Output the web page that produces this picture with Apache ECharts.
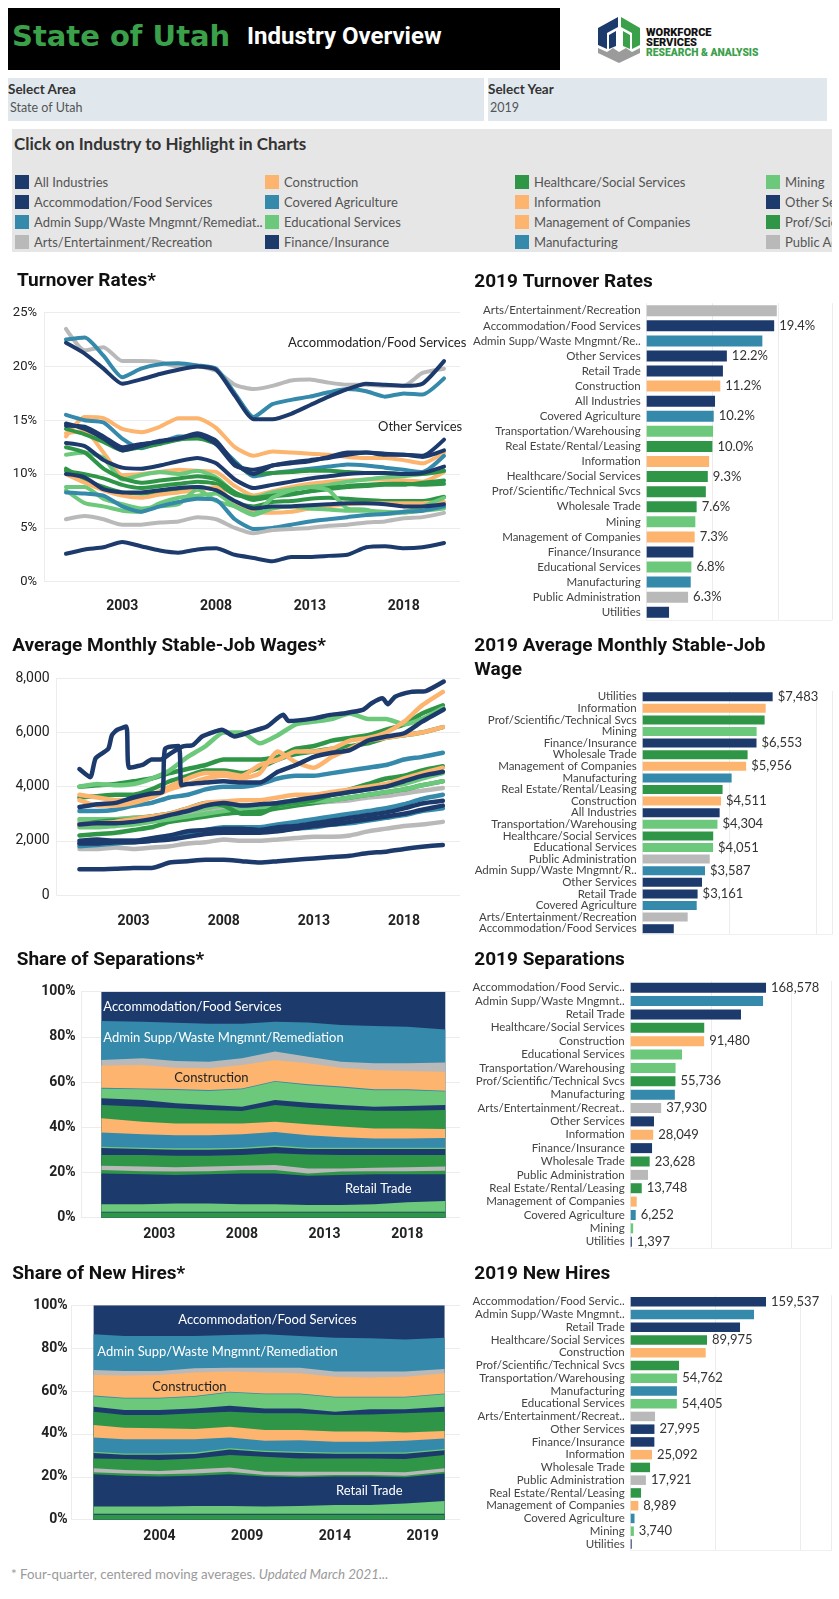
<!DOCTYPE html>
<html><head><meta charset="utf-8">
<script src="https://cdn.jsdelivr.net/npm/echarts@6/dist/echarts.min.js"></script>
<style>
body{margin:0;background:#fff;}
#page{position:relative;width:839px;height:1599px;overflow:hidden;font-family:Lato,'Noto Sans',sans-serif;}
.abs{position:absolute;white-space:nowrap;}
.lt{height:18px;line-height:18px;}
</style></head><body>
<div id="page">
  <div class="abs" style="left:8px;top:8px;width:552px;height:62px;background:#000;"></div>
  <div class="abs" style="left:12px;top:19px;height:42px;line-height:42px;font:bold 29px 'DejaVu Sans';color:#3aa04a;">State of Utah</div>
  <div class="abs" style="left:247px;top:22px;height:38px;line-height:38px;font:bold 24px 'Liberation Sans Narrow',Roboto;color:#fff;">Industry Overview</div>
  <svg class="abs" style="left:590px;top:10px;" width="200" height="60" viewBox="590 10 200 60">
    <polygon points="598,28 618,17 618,27 607,33 607,49 598,45" fill="#1d3a6c"/>
    <polygon points="609,35 616,31 616,46 609,49" fill="#1d3a6c"/>
    <polygon points="621,17 640,28 640,45 632,49 632,33 621,27" fill="#3aa04a"/>
    <polygon points="623,31 630,35 630,49 623,46" fill="#3aa04a"/>
    <polygon points="598,48 607,52 613,48 619,52 626,48 632,52 640,48 640,53 619,63 598,53" fill="#9b9b9b"/>
    <text x="646" y="36" font-family="Roboto" font-weight="900" font-size="11" fill="#111">WORKFORCE</text>
    <text x="646" y="46" font-family="Roboto" font-weight="900" font-size="11" fill="#111">SERVICES</text>
    <text x="646" y="56" font-family="Roboto" font-weight="900" font-size="10.3" fill="#3aa04a">RESEARCH &amp; ANALYSIS</text>
  </svg>
  <div class="abs" style="left:8px;top:78px;width:476px;height:43px;background:#e0e8ee;"></div>
  <div class="abs" style="left:488px;top:78px;width:339px;height:43px;background:#e0e8ee;"></div>
  <div class="abs lt" style="left:8px;top:80px;font-weight:bold;font-size:13.5px;color:#333;">Select Area</div>
  <div class="abs lt" style="left:10px;top:99px;font-size:12.5px;color:#555;">State of Utah</div>
  <div class="abs lt" style="left:488px;top:80px;font-weight:bold;font-size:13.5px;color:#333;">Select Year</div>
  <div class="abs lt" style="left:490px;top:99px;font-size:12.5px;color:#555;">2019</div>
  <div id="legend" class="abs" style="left:12px;top:129px;width:820px;height:123px;background:#e6e6e6;overflow:hidden;">
    <div class="abs" style="left:2px;top:4px;height:22px;line-height:22px;font-weight:bold;font-size:17px;color:#333;">Click on Industry to Highlight in Charts</div>
  </div>
  <div class="abs lt" style="left:11px;top:1565px;font-size:13.3px;color:#9a9a9a;">* Four-quarter, centered moving averages. <i>Updated March 2021...</i></div>
  <div id="chart" class="abs" style="left:0;top:0;width:839px;height:1599px;"></div>
</div>
<script>
// ---------- colours ----------
const NAVY='#1d3a6c', TEAL='#3589ab', LGREEN='#6cc87a', GREEN='#2f9648', ORANGE='#fcb46e', GRAY='#b9b9b9';
const COLOR_BY_KEY={All:NAVY,Accom:NAVY,Admin:TEAL,Arts:GRAY,Constr:ORANGE,CovAg:TEAL,Educ:LGREEN,Fin:NAVY,Health:GREEN,Info:ORANGE,Mgmt:ORANGE,Manuf:TEAL,Mining:LGREEN,Other:NAVY,Prof:GREEN,Public:GRAY,RE:GREEN,Retail:NAVY,Transp:LGREEN,Util:NAVY,Whole:GREEN};

// ---------- legend ----------
const LEGEND_KEYS=['All','Accom','Admin','Arts','Constr','CovAg','Educ','Fin','Health','Info','Mgmt','Manuf','Mining','Other','Prof','Public','RE','Retail','Transp','Util','Whole'];
const LEGEND_LABELS=['All Industries','Accommodation/Food Services','Admin Supp/Waste Mngmnt/Remediat..','Arts/Entertainment/Recreation','Construction','Covered Agriculture','Educational Services','Finance/Insurance','Healthcare/Social Services','Information','Management of Companies','Manufacturing','Mining','Other Services','Prof/Scientific/Technical Svcs','Public Administration','Real Estate/Rental/Leasing','Retail Trade','Transportation/Warehousing','Utilities','Wholesale Trade'];

// ---------- line chart x positions ----------
const YEARS=[2000,2001,2002,2003,2004,2005,2006,2007,2008,2009,2010,2011,2012,2013,2014,2015,2016,2017,2018,2019,2020.15];
const LINE_TICKS_1=[2003,2008,2013,2018];

// ---------- turnover rates (%) ----------
const TURN_ALL=[12.9,12.6,11.3,10.6,10.5,10.8,11.2,11.5,11.0,9.5,8.7,9.0,9.3,9.6,9.8,10.0,10.1,10.1,10.0,10.1,10.7];
const TURN_ACCOM=[22.2,21.2,19.8,18.4,18.8,19.3,19.7,20.0,19.7,17.3,15.1,15.1,15.6,16.4,17.2,17.9,18.4,18.3,18.2,18.4,20.5];
const TURN_ADMIN=[22.5,22.7,21.0,19.0,19.8,20.2,20.3,20.1,19.8,17.5,15.3,16.5,16.9,17.2,17.6,17.9,17.7,17.2,17.5,17.4,18.9];
const TURN_ARTS=[23.5,21.5,21.8,20.5,20.5,20.4,20.0,20.0,19.6,18.3,17.9,18.2,18.7,18.8,18.5,18.3,18.3,18.2,18.2,19.4,19.8];
const TURN_CONSTR=[13.5,15.3,15.2,14.2,13.9,14.4,15.2,15.2,14.3,12.5,11.7,12.1,12.0,11.9,11.8,11.6,11.5,11.5,11.3,11.0,12.0];
const TURN_COVAG=[15.5,15.0,14.8,13.3,12.4,12.9,13.5,13.5,12.8,11.2,9.8,10.1,10.3,10.5,10.7,10.9,10.8,10.6,10.4,10.2,11.7];
const TURN_EDUC=[8.5,7.3,7.0,6.6,6.5,7.3,7.8,8.0,8.2,7.0,6.2,6.8,7.0,6.8,6.7,6.6,6.6,6.5,6.4,6.6,6.8];
const TURN_FIN=[10.0,9.7,8.6,8.3,8.3,8.5,8.7,8.8,8.5,7.5,6.8,7.0,7.0,7.1,7.2,7.3,7.3,7.2,7.0,7.0,7.2];
const TURN_HEALTH=[10.3,10.0,9.6,9.0,8.7,8.9,9.1,9.3,9.1,8.1,7.8,8.0,8.2,8.4,8.6,8.8,8.9,9.0,9.0,9.2,9.4];
const TURN_INFO=[13.8,14.0,12.0,9.9,10.0,10.2,10.4,10.3,10.2,8.9,8.0,8.4,8.8,9.1,9.3,9.4,9.5,9.5,9.4,9.3,10.2];
const TURN_MGMT=[10.0,9.2,8.5,8.0,7.8,8.1,8.3,8.5,8.8,7.2,6.5,6.4,6.5,6.8,7.0,7.2,7.3,7.3,7.3,7.3,7.4];
const TURN_MANUF=[8.3,8.2,8.0,7.0,6.5,7.0,7.4,7.7,7.6,5.8,4.9,5.0,5.3,5.6,5.8,6.0,6.2,6.3,6.5,6.6,7.0];
const TURN_MINING=[8.8,8.8,7.7,7.2,6.8,7.0,7.2,8.6,7.5,7.0,6.3,7.8,8.5,8.8,8.5,6.8,6.7,6.3,6.5,7.0,7.8];
const TURN_OTHER=[14.5,14.4,13.5,12.5,12.8,13.0,13.3,13.6,12.8,10.8,10.4,10.8,11.1,11.3,11.5,11.8,12.0,11.9,11.8,11.7,13.2];
const TURN_PROF=[12.5,12.0,10.5,9.6,9.2,9.4,9.6,9.8,9.5,8.3,7.6,7.9,8.1,8.4,8.7,8.9,9.0,9.1,9.1,9.0,9.1];
const TURN_PUBLIC=[5.8,6.1,5.8,5.3,5.3,5.5,5.6,6.0,5.8,5.0,4.5,4.8,4.9,5.0,5.2,5.3,5.5,5.6,5.9,6.0,6.4];
const TURN_RE=[14.2,13.7,13.0,12.2,12.5,12.8,13.2,13.3,12.8,11.0,10.0,10.1,10.2,10.3,10.3,10.2,10.1,10.1,10.0,10.0,10.3];
const TURN_RETAIL=[14.7,14.2,13.3,12.2,12.6,13.1,13.3,13.8,13.1,11.0,10.0,10.8,11.0,11.2,11.6,12.0,12.0,11.8,11.8,11.6,12.2];
const TURN_TRANSP=[11.8,12.0,11.5,9.5,9.9,10.2,10.0,10.3,9.7,8.3,7.8,8.3,8.6,8.8,9.0,9.3,9.5,9.7,9.8,10.0,10.3];
const TURN_UTIL=[2.6,3.0,3.2,3.7,3.3,2.9,2.7,3.0,3.1,2.5,2.2,1.9,2.3,2.3,2.4,2.5,3.2,3.3,3.1,3.2,3.6];
const TURN_WHOLE=[10.5,9.5,8.8,8.3,8.2,8.4,8.6,8.8,8.5,7.3,7.0,7.4,7.5,7.7,7.8,7.7,7.6,7.5,7.5,7.5,7.9];

// ---------- average monthly stable-job wages ($) ----------
const WAGE_ALL=[2600,2650,2650,2700,2800,2950,3100,3300,3400,3300,3350,3400,3500,3600,3700,3800,3900,4000,4200,4400,4550];
const WAGE_ACCOM=[950,950,970,1000,1000,1200,1250,1300,1300,1250,1200,1250,1300,1350,1400,1450,1550,1600,1700,1780,1850];
const WAGE_ADMIN=[1900,1950,2000,2000,2050,2100,2300,2400,2500,2500,2500,2600,2700,2800,2900,3000,3100,3200,3350,3550,3700];
const WAGE_ARTS=[1700,1700,1750,1700,1750,1800,1900,1950,2050,2000,2000,2050,2100,2150,2150,2200,2350,2450,2550,2600,2700];
const WAGE_CONSTR=[2600,2650,2700,2800,2900,3000,3200,3400,3450,3500,3500,3600,3700,3700,3800,3900,4000,4100,4300,4500,4700];
const WAGE_COVAG=[1800,1850,1900,1950,2000,2100,2200,2300,2400,2400,2350,2400,2450,2500,2600,2650,2750,2850,2950,3100,3200];
const WAGE_EDUC=[2500,2500,2550,2600,2700,2800,2900,3000,3100,3200,3250,3300,3400,3450,3500,3600,3700,3800,3900,4050,4200];
const WAGE_HEALTH=[2200,2250,2300,2400,2500,2700,2800,2900,3000,3050,3100,3200,3300,3400,3500,3600,3700,3800,3900,4050,4200];
const WAGE_INFO=[3700,3600,3500,3500,3700,4000,4300,4500,4500,4400,4800,5000,5300,5300,5400,5700,5800,6000,6400,7000,7500];
const WAGE_MGMT=[3500,3300,3300,3400,3600,3900,4100,4300,4400,4300,4500,5300,4900,4700,5100,5400,5700,5800,5900,6000,6200];
const WAGE_MANUF=[3100,3100,3150,3300,3400,3600,3700,3900,4000,4000,4100,4300,4400,4400,4500,4600,4700,4800,5000,5100,5250];
const WAGE_MINING=[4000,4100,4050,4100,4300,4600,5100,5500,6000,6000,5600,5900,6300,6400,6500,6700,6500,6500,6300,6500,6900];
const WAGE_OTHER=[2000,2050,2000,2000,2100,2200,2350,2400,2450,2450,2400,2500,2550,2650,2750,2850,2950,3050,3200,3380,3480];
const WAGE_PROF=[4000,4050,4100,4200,4300,4500,4650,4800,5000,5000,5000,5100,5400,5500,5700,5800,5900,6100,6300,6700,7000];
const WAGE_PUBLIC=[2700,2750,2800,2850,2900,2950,3050,3150,3250,3250,3250,3300,3350,3400,3450,3500,3600,3650,3750,3850,3950];
const WAGE_RE=[2600,2700,2750,2800,2900,3000,3200,3400,3300,3000,3000,3300,3400,3500,3700,3900,4100,4300,4400,4600,4750];
const WAGE_RETAIL=[1900,1900,1950,1950,2000,2050,2150,2250,2300,2300,2300,2350,2450,2550,2600,2700,2800,2900,3000,3150,3300];
const WAGE_TRANSP=[2800,2800,2800,2850,2900,3000,3100,3200,3300,3300,3300,3400,3500,3600,3700,3800,3900,4000,4100,4300,4500];
const WAGE_WHOLE=[3600,3650,3700,3700,3900,4200,4400,4600,4600,4500,4700,5000,5200,5300,5400,5500,5600,5800,5900,6000,6200];
// irregular series, [year, wage]
const WAGE_UTIL_PTS=[[2000,4650],[2000.6,4350],[2000.9,5050],[2001.6,5400],[2001.8,5900],[2002.1,6100],[2002.6,6220],[2002.75,4700],[2003.5,4800],[2004.0,5000],[2004.5,5000],[2005.0,5200],[2005.7,5480],[2006.3,5540],[2006.8,5850],[2007.5,6030],[2007.9,6100],[2008.6,5850],[2009.5,6030],[2010.4,6220],[2011.3,6650],[2011.6,6420],[2013.0,6520],[2013.9,6650],[2014.6,6700],[2015.7,6830],[2016.2,7080],[2016.8,7260],[2017.1,7040],[2017.5,7320],[2018.4,7500],[2019.2,7530],[2020.2,7880]];
const WAGE_FIN_PTS=[[2000,3250],[2001,3350],[2002,3400],[2003,3600],[2004,3750],[2004.6,3800],[2004.75,5400],[2005.5,5500],[2005.65,4050],[2006,4100],[2007,4150],[2008,4200],[2009,4150],[2010,4150],[2011,4550],[2012,4800],[2013,5100],[2014,5250],[2015,5350],[2016,5700],[2017,5850],[2018,5970],[2019,6400],[2020.2,6850]];

// ---------- 2019 bar charts ----------
const TB_LABELS=['Arts/Entertainment/Recreation','Accommodation/Food Services','Admin Supp/Waste Mngmnt/Re..','Other Services','Retail Trade','Construction','All Industries','Covered Agriculture','Transportation/Warehousing','Real Estate/Rental/Leasing','Information','Healthcare/Social Services','Prof/Scientific/Technical Svcs','Wholesale Trade','Mining','Management of Companies','Finance/Insurance','Educational Services','Manufacturing','Public Administration','Utilities'];
const TB_KEYS=['Arts','Accom','Admin','Other','Retail','Constr','All','CovAg','Transp','RE','Info','Health','Prof','Whole','Mining','Mgmt','Fin','Educ','Manuf','Public','Util'];
const TB_VALUES=[19.8,19.4,17.6,12.2,11.6,11.2,10.4,10.2,10.1,10.0,9.5,9.3,9.0,7.6,7.4,7.3,7.1,6.8,6.7,6.3,3.4];
const TB_SHOWN=[0,1,0,1,0,1,0,1,0,1,0,1,0,1,0,1,0,1,0,1,0];

const WB_LABELS=['Utilities','Information','Prof/Scientific/Technical Svcs','Mining','Finance/Insurance','Wholesale Trade','Management of Companies','Manufacturing','Real Estate/Rental/Leasing','Construction','All Industries','Transportation/Warehousing','Healthcare/Social Services','Educational Services','Public Administration','Admin Supp/Waste Mngmnt/R..','Other Services','Retail Trade','Covered Agriculture','Arts/Entertainment/Recreation','Accommodation/Food Services'];
const WB_KEYS=['Util','Info','Prof','Mining','Fin','Whole','Mgmt','Manuf','RE','Constr','All','Transp','Health','Educ','Public','Admin','Other','Retail','CovAg','Arts','Accom'];
const WB_VALUES=[7483,7080,7020,6560,6553,6040,5956,5120,4600,4511,4430,4304,4060,4051,3860,3587,3415,3161,3110,2590,1790];
const WB_SHOWN=[1,0,0,0,1,0,1,0,0,1,0,1,0,1,0,1,0,1,0,0,0];

const SB_LABELS=['Accommodation/Food Servic..','Admin Supp/Waste Mngmnt..','Retail Trade','Healthcare/Social Services','Construction','Educational Services','Transportation/Warehousing','Prof/Scientific/Technical Svcs','Manufacturing','Arts/Entertainment/Recreat..','Other Services','Information','Finance/Insurance','Wholesale Trade','Public Administration','Real Estate/Rental/Leasing','Management of Companies','Covered Agriculture','Mining','Utilities'];
const SB_KEYS=['Accom','Admin','Retail','Health','Constr','Educ','Transp','Prof','Manuf','Arts','Other','Info','Fin','Whole','Public','RE','Mgmt','CovAg','Mining','Util'];
const SB_VALUES=[168578,164900,137400,91600,91480,63900,55900,55736,55000,37930,29000,28049,26600,23628,21600,13748,7500,6252,3100,1397];
const SB_SHOWN=[1,0,0,0,1,0,0,1,0,1,0,1,0,1,0,1,0,1,0,1];

const HB_LABELS=['Accommodation/Food Servic..','Admin Supp/Waste Mngmnt..','Retail Trade','Healthcare/Social Services','Construction','Prof/Scientific/Technical Svcs','Transportation/Warehousing','Manufacturing','Educational Services','Arts/Entertainment/Recreat..','Other Services','Finance/Insurance','Information','Wholesale Trade','Public Administration','Real Estate/Rental/Leasing','Management of Companies','Covered Agriculture','Mining','Utilities'];
const HB_KEYS=['Accom','Admin','Retail','Health','Constr','Prof','Transp','Manuf','Educ','Arts','Other','Fin','Info','Whole','Public','RE','Mgmt','CovAg','Mining','Util'];
const HB_VALUES=[159537,145400,128900,89975,88400,57000,54762,54500,54405,28700,27995,27900,25092,22800,17921,12200,8989,4500,3740,1200];
const HB_SHOWN=[1,0,0,1,0,0,1,0,1,0,1,0,1,0,1,0,1,0,1,0];

// ---------- share of separations: top edge of each band (cumulative %) ----------
const SEP_T=[1999.5,2002,2004,2006,2008,2010,2012,2014,2016,2018,2020.3];
const SEP_TICKS=[2003,2008,2013,2018];
const SEP_ACCOM=[100,100,100,100,100,100,100,100,100,100,100];
const SEP_ADMIN=[87.0,86.7,86.3,85.8,85.8,86.7,86.4,85.3,84.8,84.5,83.3];
const SEP_ARTS=[69.8,70.5,69.3,69.0,70.5,73.5,71.2,69.0,68.3,68.3,68.7];
const SEP_CONSTR=[67.3,67.6,66.4,66.1,67.6,69.8,68.3,66.4,65.3,64.9,64.6];
const SEP_COVAG=[57.5,57.2,56.9,56.5,57.2,60.5,59.0,58.0,56.8,56.8,56.2];
const SEP_EDUC=[57.1,56.8,56.5,56.1,56.8,60.1,58.6,57.6,56.4,56.4,55.8];
const SEP_FIN=[52.8,52.1,50.6,49.9,49.1,52.1,50.9,49.9,49.1,49.4,49.9];
const SEP_HEALTH=[49.9,49.1,48.4,47.6,47.2,49.9,48.7,47.9,47.3,47.3,47.6];
const SEP_INFO=[44.0,42.5,41.7,41.7,41.7,42.5,41.3,40.3,39.5,39.5,39.2];
const SEP_MGMT=[38.1,37.3,36.9,36.9,37.3,38.3,36.9,36.0,35.4,35.4,35.7];
const SEP_MANUF=[37.7,36.9,36.5,36.5,36.9,37.9,36.5,35.6,35.0,35.0,35.3];
const SEP_MINING=[31.4,31.0,30.7,30.7,31.0,31.9,31.0,31.0,31.0,31.0,31.0];
const SEP_OTHER=[30.8,30.4,30.1,30.1,30.4,31.3,30.4,30.4,30.4,30.4,30.4];
const SEP_PROF=[27.7,27.7,27.4,27.4,27.7,28.5,28.0,27.7,27.7,27.7,27.7];
const SEP_PUBLIC=[23.0,22.6,22.3,22.6,23.0,23.3,21.8,21.8,22.1,22.3,22.6];
const SEP_RE=[21.1,20.6,20.4,20.6,21.1,21.1,19.6,20.4,20.6,20.6,20.8];
const SEP_RETAIL=[19.6,19.2,18.9,19.2,19.6,19.6,18.6,18.9,19.2,19.2,19.2];
const SEP_TRANSP=[5.9,5.9,6.3,6.3,5.9,5.9,5.6,5.6,5.9,6.8,7.4];
const SEP_UTIL=[2.6,2.6,2.6,2.6,2.6,2.6,2.6,2.6,2.6,2.6,2.6];
const SEP_WHOLE=[2.3,2.3,2.3,2.3,2.3,2.3,2.3,2.3,2.3,2.3,2.3];

// ---------- share of new hires: top edge of each band (cumulative %) ----------
const HIRE_T=[2000.25,2002,2004,2006,2008,2010,2012,2014,2016,2018,2020.25];
const HIRE_TICKS=[2004,2009,2014,2019];
const HIRE_ACCOM=[100,100,100,100,100,100,100,100,100,100,100];
const HIRE_ADMIN=[86.5,85.7,85.7,85.7,86.2,86.5,85.7,84.9,84.6,84.1,84.9];
const HIRE_ARTS=[69.8,69.4,69.4,70.6,70.9,70.9,70.9,69.1,69.1,69.1,70.3];
const HIRE_CONSTR=[67.5,67.2,67.5,68.7,69.1,68.7,68.3,66.7,66.3,66.7,68.3];
const HIRE_COVAG=[57.9,56.9,56.9,57.7,59.7,58.9,58.9,57.4,57.4,57.4,58.9];
const HIRE_EDUC=[57.5,56.5,56.5,57.3,59.3,58.5,58.5,57.0,57.0,57.0,58.5];
const HIRE_FIN=[52.7,51.2,51.2,51.9,53.2,51.9,51.9,50.4,51.5,51.5,52.7];
const HIRE_HEALTH=[50.4,48.8,48.8,49.6,50.4,49.6,49.6,48.8,49.1,49.6,50.4];
const HIRE_INFO=[44.2,42.9,42.6,42.3,43.4,41.8,41.8,41.1,41.1,40.7,41.4];
const HIRE_MGMT=[38.7,37.9,37.9,37.9,38.7,37.2,37.5,36.7,36.7,37.2,38.3];
const HIRE_MANUF=[38.3,37.5,37.5,37.5,38.3,36.8,37.1,36.3,36.3,36.8,37.9];
const HIRE_MINING=[31.7,30.9,30.9,31.3,33.3,32.2,31.7,31.4,31.4,31.4,33.0];
const HIRE_OTHER=[31.1,30.3,30.3,30.7,32.7,31.6,31.1,30.8,30.8,30.8,32.4];
const HIRE_PROF=[28.6,28.3,27.8,28.6,30.2,29.4,28.6,28.6,28.6,28.3,30.2];
const HIRE_PUBLIC=[24.0,23.2,22.7,23.5,24.3,22.4,22.4,22.4,22.4,22.1,24.0];
const HIRE_RE=[22.1,21.6,21.2,21.6,22.4,20.8,20.5,20.8,20.8,20.5,22.4];
const HIRE_RETAIL=[21.2,20.5,20.1,20.5,21.2,20.1,19.8,20.1,20.1,19.8,21.6];
const HIRE_TRANSP=[6.1,6.1,6.1,6.4,6.4,6.1,6.4,6.8,6.8,7.6,8.7];
const HIRE_UTIL=[2.8,2.8,2.8,2.8,2.8,2.8,2.8,2.8,2.8,2.8,2.8];
const HIRE_WHOLE=[2.3,2.3,2.3,2.3,2.3,2.3,2.3,2.3,2.3,2.3,2.3];

// ---------- build legend ----------
(function(){
  const box=document.getElementById('legend');
  const colX=[3,253,503,754,1004,1254], rowY=[44,64,84,104];
  LEGEND_KEYS.forEach((k,i)=>{
    const c=Math.floor(i/4), r=i%4;
    const sw=document.createElement('div');
    sw.className='abs';
    sw.style.cssText=`left:${colX[c]}px;top:${rowY[r]+2}px;width:14px;height:14px;background:${COLOR_BY_KEY[k]};`;
    box.appendChild(sw);
    const t=document.createElement('div');
    t.className='abs lt';
    t.style.cssText+=`left:${colX[c]+19}px;top:${rowY[r]}px;font-size:13px;color:#555;`;
    t.textContent=LEGEND_LABELS[i];
    box.appendChild(t);
  });
})();

// ---------- chart ----------
const FONT='Lato';
const chart=echarts.init(document.getElementById('chart'),null,{renderer:'canvas'});
const GRIDS=[
  {left:44,top:312.7,width:416,height:269},
  {left:56.7,top:678.3,width:403.3,height:216.7},
  {left:81.7,top:991.7,width:378.3,height:226},
  {left:71.7,top:1305.3,width:388.3,height:214.4},
  {left:646.7,top:303.2,width:185.3,height:316.6},
  {left:642.7,top:690.9,width:189.3,height:243.6},
  {left:630.7,top:981.0,width:201,height:267.4},
  {left:630.7,top:1295.3,width:201,height:255}
];
const faint='#ececec';
function lineX(idx,min,max,ticks,margin){
  return {gridIndex:idx,type:'value',min:min,max:max,
    axisLine:{show:false},axisTick:{show:false},splitLine:{show:false},
    axisLabel:{customValues:ticks,margin:margin,fontFamily:'Roboto',fontWeight:'bold',fontSize:14,color:'#222',formatter:v=>String(Math.round(v))}};
}
function lineY(idx,max,interval,fmt,margin,bold,size){
  return {gridIndex:idx,type:'value',min:0,max:max,interval:interval,
    axisLine:{show:true,lineStyle:{color:faint}},axisTick:{show:false},
    splitLine:{show:true,lineStyle:{color:faint,width:1}},
    axisLabel:{formatter:fmt,margin:margin,fontFamily:'Roboto',fontWeight:bold?'bold':'normal',fontSize:size,color:'#222'}};
}
function barX(idx,max,interval){
  return {gridIndex:idx,type:'value',min:0,max:max,interval:interval,
    axisLine:{show:true,lineStyle:{color:'#f0f0f0'}},axisTick:{show:false},axisLabel:{show:false},
    splitLine:{show:true,lineStyle:{color:faint}}};
}
function barY(idx,labels){
  return {gridIndex:idx,type:'category',inverse:true,data:labels,
    axisLine:{show:false},axisTick:{show:false},
    axisLabel:{interval:0,margin:6,fontFamily:FONT,fontSize:11.5,color:'#444'}};
}
const xAxes=[
  lineX(0,1998.83,2021.0,LINE_TICKS_1,18),
  lineX(1,1998.74,2021.1,LINE_TICKS_1,19),
  lineX(2,1998.31,2021.19,SEP_TICKS,10),
  lineX(3,1999.0,2021.13,HIRE_TICKS,10),
  barX(4,28.2,10), barX(5,10900,5000), barX(6,250400,100000), barX(7,237000,100000)
];
const yAxes=[
  lineY(0,25,5,'{value}%',7,false,13),
  lineY(1,8000,2000,v=>v.toLocaleString('en-US'),7,false,14),
  lineY(2,100,20,'{value}%',6,true,14),
  lineY(3,100,20,'{value}%',4,true,14),
  barY(4,TB_LABELS), barY(5,WB_LABELS), barY(6,SB_LABELS), barY(7,HB_LABELS)
];
const series=[];
function addLine(idx,key,pts,width){
  series.push({type:'line',xAxisIndex:idx,yAxisIndex:idx,data:pts,showSymbol:false,symbol:'none',smooth:0.2,
    lineStyle:{color:COLOR_BY_KEY[key],width:width,cap:'round',join:'round'},itemStyle:{color:COLOR_BY_KEY[key]},silent:true});
}
const pairs=(xs,ys)=>ys.map((v,i)=>[xs[i],v]);
const TURN_SERIES=[['Arts',TURN_ARTS],['Admin',TURN_ADMIN],['Accom',TURN_ACCOM],['Constr',TURN_CONSTR],['CovAg',TURN_COVAG],['Info',TURN_INFO],['Transp',TURN_TRANSP],['RE',TURN_RE],['Prof',TURN_PROF],['Health',TURN_HEALTH],['Whole',TURN_WHOLE],['Mgmt',TURN_MGMT],['Mining',TURN_MINING],['Educ',TURN_EDUC],['Manuf',TURN_MANUF],['Public',TURN_PUBLIC],['Fin',TURN_FIN],['All',TURN_ALL],['Retail',TURN_RETAIL],['Other',TURN_OTHER],['Util',TURN_UTIL]];
TURN_SERIES.forEach(([k,a])=>addLine(0,k,pairs(YEARS,a),4));
const WAGE_SERIES=[['Arts',WAGE_ARTS],['Public',WAGE_PUBLIC],['CovAg',WAGE_COVAG],['Admin',WAGE_ADMIN],['Retail',WAGE_RETAIL],['Other',WAGE_OTHER],['Health',WAGE_HEALTH],['Educ',WAGE_EDUC],['Transp',WAGE_TRANSP],['RE',WAGE_RE],['Constr',WAGE_CONSTR],['Manuf',WAGE_MANUF],['Whole',WAGE_WHOLE],['Prof',WAGE_PROF],['Mining',WAGE_MINING],['Mgmt',WAGE_MGMT],['Info',WAGE_INFO],['All',WAGE_ALL],['Accom',WAGE_ACCOM]];
WAGE_SERIES.forEach(([k,a])=>addLine(1,k,pairs(YEARS,a),4.5));
addLine(1,'Fin',WAGE_FIN_PTS,4.5);
addLine(1,'Util',WAGE_UTIL_PTS,4.5);

function addBand(idx,key,xs,tops){
  series.push({type:'line',xAxisIndex:idx,yAxisIndex:idx,data:pairs(xs,tops),showSymbol:false,symbol:'none',
    lineStyle:{width:0},areaStyle:{color:COLOR_BY_KEY[key],opacity:1},silent:true});
}
const SEP_BANDS=[['Accom',SEP_ACCOM],['Admin',SEP_ADMIN],['Arts',SEP_ARTS],['Constr',SEP_CONSTR],['CovAg',SEP_COVAG],['Educ',SEP_EDUC],['Fin',SEP_FIN],['Health',SEP_HEALTH],['Info',SEP_INFO],['Mgmt',SEP_MGMT],['Manuf',SEP_MANUF],['Mining',SEP_MINING],['Other',SEP_OTHER],['Prof',SEP_PROF],['Public',SEP_PUBLIC],['RE',SEP_RE],['Retail',SEP_RETAIL],['Transp',SEP_TRANSP],['Util',SEP_UTIL],['Whole',SEP_WHOLE]];
SEP_BANDS.forEach(([k,a])=>addBand(2,k,SEP_T,a));
const HIRE_BANDS=[['Accom',HIRE_ACCOM],['Admin',HIRE_ADMIN],['Arts',HIRE_ARTS],['Constr',HIRE_CONSTR],['CovAg',HIRE_COVAG],['Educ',HIRE_EDUC],['Fin',HIRE_FIN],['Health',HIRE_HEALTH],['Info',HIRE_INFO],['Mgmt',HIRE_MGMT],['Manuf',HIRE_MANUF],['Mining',HIRE_MINING],['Other',HIRE_OTHER],['Prof',HIRE_PROF],['Public',HIRE_PUBLIC],['RE',HIRE_RE],['Retail',HIRE_RETAIL],['Transp',HIRE_TRANSP],['Util',HIRE_UTIL],['Whole',HIRE_WHOLE]];
HIRE_BANDS.forEach(([k,a])=>addBand(3,k,HIRE_T,a));

function addBars(idx,keys,vals,shown,barW,fmt){
  series.push({type:'bar',xAxisIndex:idx,yAxisIndex:idx,barWidth:barW,silent:true,
    data:vals.map((v,i)=>({value:v,itemStyle:{color:COLOR_BY_KEY[keys[i]]},label:{show:!!shown[i]}})),
    label:{position:'right',distance:5,formatter:p=>fmt(p.value),fontFamily:FONT,fontSize:13,color:'#333'}});
}
addBars(4,TB_KEYS,TB_VALUES,TB_SHOWN,11,v=>v.toFixed(1)+'%');
addBars(5,WB_KEYS,WB_VALUES,WB_SHOWN,9,v=>'$'+v.toLocaleString('en-US'));
addBars(6,SB_KEYS,SB_VALUES,SB_SHOWN,10,v=>v.toLocaleString('en-US'));
addBars(7,HB_KEYS,HB_VALUES,HB_SHOWN,9.5,v=>v.toLocaleString('en-US'));

function txt(x,y,text,font,fill){
  return {type:'text',x:x,y:y,z:100,silent:true,
    style:{text:text,font:font,fill:fill,textAlign:'left',textVerticalAlign:'middle',align:'left',verticalAlign:'middle'}};
}
const TITLE_FONT='bold 19px Roboto';
const ANN_FONT='13px '+FONT;
const graphics=[
  txt(17,281.7,'Turnover Rates*',TITLE_FONT,'#111'),
  txt(474.3,282.3,'2019 Turnover Rates',TITLE_FONT,'#111'),
  txt(12.3,646.7,'Average Monthly Stable-Job Wages*',TITLE_FONT,'#111'),
  txt(474.3,646.7,'2019 Average Monthly Stable-Job',TITLE_FONT,'#111'),
  txt(474.3,670.5,'Wage',TITLE_FONT,'#111'),
  txt(16.7,960,'Share of Separations*',TITLE_FONT,'#111'),
  txt(474.3,960,'2019 Separations',TITLE_FONT,'#111'),
  txt(12.3,1274.3,'Share of New Hires*',TITLE_FONT,'#111'),
  txt(474.3,1274.3,'2019 New Hires',TITLE_FONT,'#111'),
  txt(288,343.3,'Accommodation/Food Services',ANN_FONT,'#222'),
  txt(378,426.7,'Other Services',ANN_FONT,'#222'),
  txt(103.3,1006.7,'Accommodation/Food Services',ANN_FONT,'#fff'),
  txt(103.3,1037.7,'Admin Supp/Waste Mngmnt/Remediation',ANN_FONT,'#fff'),
  txt(174.3,1077.7,'Construction',ANN_FONT,'#222'),
  txt(345,1189,'Retail Trade',ANN_FONT,'#fff'),
  txt(178.3,1320,'Accommodation/Food Services',ANN_FONT,'#fff'),
  txt(97.3,1351.7,'Admin Supp/Waste Mngmnt/Remediation',ANN_FONT,'#fff'),
  txt(152.3,1387.3,'Construction',ANN_FONT,'#222'),
  txt(336,1490.7,'Retail Trade',ANN_FONT,'#fff')
];

chart.setOption({
  animation:false,
  backgroundColor:'transparent',
  grid:GRIDS.map(g=>Object.assign({containLabel:false,outerBoundsMode:'none'},g)),
  xAxis:xAxes,
  yAxis:yAxes,
  series:series,
  graphic:{elements:graphics}
});
</script>
</body></html>
